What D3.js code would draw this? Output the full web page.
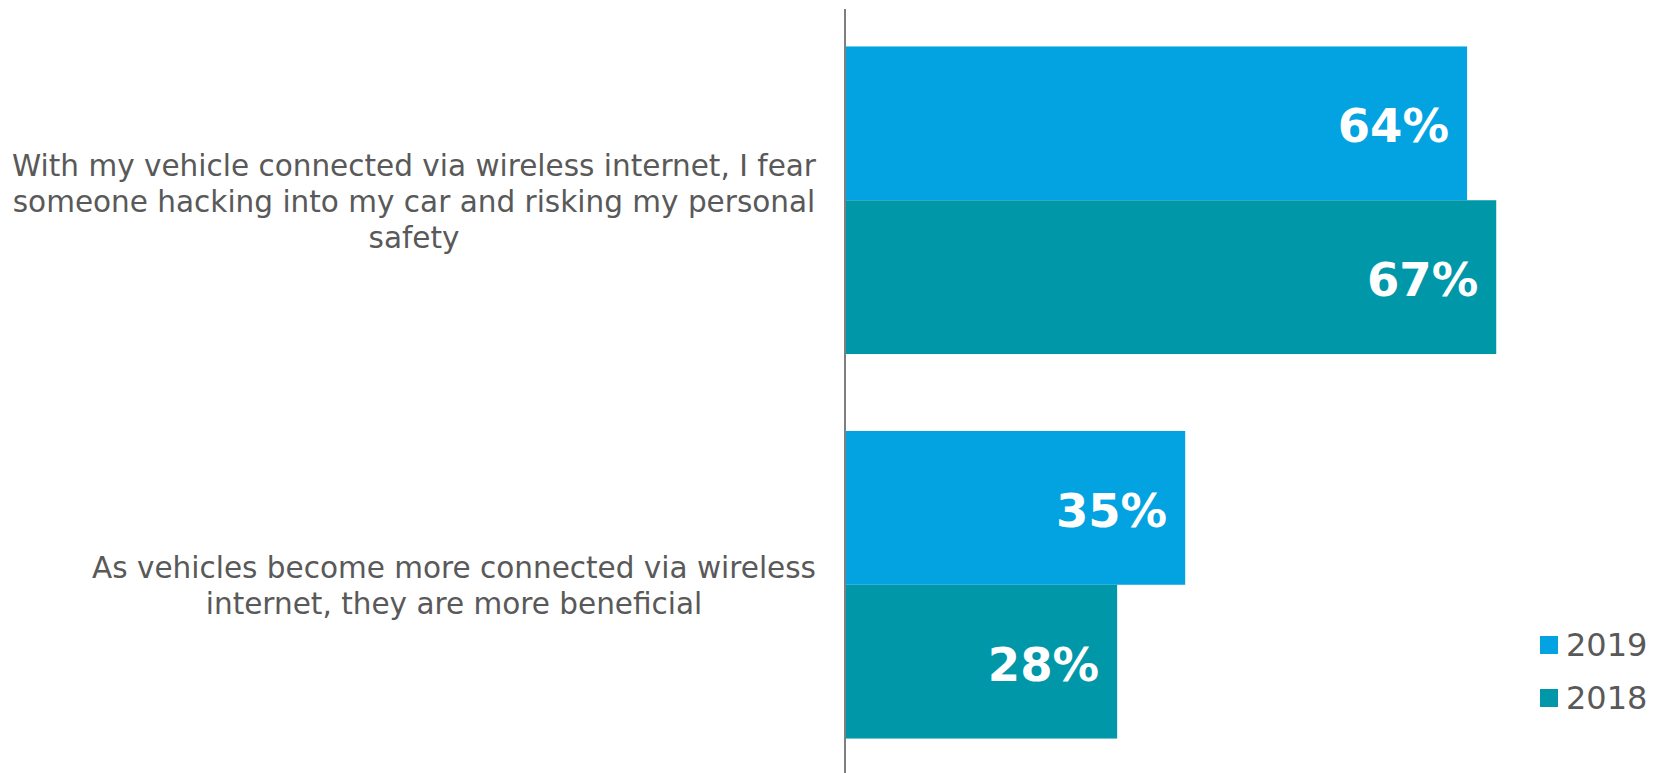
<!DOCTYPE html>
<html>
<head>
<meta charset="utf-8">
<script src="https://cdn.jsdelivr.net/npm/d3@7"></script>
<style>
  html, body { margin: 0; padding: 0; background: #ffffff; }
  svg { display: block; }
</style>
</head>
<body>
<svg id="chart" width="1662" height="773"></svg>
<script>
// ---- data ----
const categories = [
  "With my vehicle connected via wireless internet, I fear someone hacking into my car and risking my personal safety",
  "As vehicles become more connected via wireless internet, they are more beneficial"
];
const categoryLines = [
  ["With my vehicle connected via wireless internet, I fear", "someone hacking into my car and risking my personal", "safety"],
  ["As vehicles become more connected via wireless", "internet, they are more beneficial"]
];
const seriesNames = ["2019", "2018"];
const values2019 = [64, 35];
const values2018 = [67, 28];
const seriesColors = ["#03a3e1", "#0097a9"];

// ---- layout ----
const W = 1662, H = 773;
const axisX = 845;
const svg = d3.select("#chart");

const x = d3.scaleLinear().domain([0, 100]).range([axisX, axisX + 972]);
const y = d3.scaleBand().domain(categories).range([8, 777]).paddingInner(0.2).paddingOuter(0.1);
const ySub = d3.scaleBand().domain(seriesNames).range([0, y.bandwidth()]);

const seriesValues = { "2019": values2019, "2018": values2018 };
const data = [];
categories.forEach((c, i) => {
  seriesNames.forEach((s, j) => data.push({ cat: c, series: s, value: seriesValues[s][i], color: seriesColors[j] }));
});

// bars
svg.append("g").selectAll("rect").data(data).join("rect")
  .attr("x", x(0))
  .attr("y", d => y(d.cat) + ySub(d.series))
  .attr("width", d => x(d.value) - x(0))
  .attr("height", ySub.bandwidth())
  .attr("fill", d => d.color);

// value labels
svg.append("g").selectAll("text").data(data).join("text")
  .attr("x", d => x(d.value) - 18)
  .attr("y", d => y(d.cat) + ySub(d.series) + ySub.bandwidth() / 2 + 3)
  .attr("text-anchor", "end")
  .attr("dominant-baseline", "central")
  .attr("font-family", "'DejaVu Sans', Verdana, sans-serif")
  .attr("font-weight", "bold")
  .attr("font-size", 46.5)
  .attr("fill", "#ffffff")
  .text(d => d.value + "%");

// axis line
const yAxis = d3.axisLeft(y).tickSize(0).tickFormat("");
const axisG = svg.append("g").attr("transform", `translate(${axisX},0)`).call(yAxis);
axisG.select(".domain").attr("stroke", "#7f7f7f").attr("stroke-width", 2)
  .attr("d", `M0,9V${H}`);

// category labels (centered text block, right-aligned to the axis)
const labelRight = 816;
const lineH = 36;
categories.forEach((c, i) => {
  const lines = categoryLines[i];
  const g = svg.append("g");
  const texts = g.selectAll("text").data(lines).join("text")
    .attr("font-family", "'DejaVu Sans', Verdana, sans-serif")
    .attr("font-size", 29.5)
    .attr("fill", "#595959")
    .attr("text-anchor", "middle")
    .attr("dominant-baseline", "central")
    .text(d => d);
  let maxW = 0;
  texts.each(function () { maxW = Math.max(maxW, this.getComputedTextLength()); });
  const cx = labelRight - maxW / 2;
  const cy = y(c) + y.bandwidth() / 2 + 1.5;
  texts.attr("x", cx).attr("y", (d, k) => cy + (k - (lines.length - 1) / 2) * lineH);
});

// legend
const legend = svg.append("g");
seriesNames.forEach((s, j) => {
  const ly = 644 + j * 53;
  legend.append("rect").attr("x", 1540).attr("y", ly - 8).attr("width", 18).attr("height", 18).attr("fill", seriesColors[j]);
  legend.append("text").attr("x", 1566).attr("y", ly + 1)
    .attr("dominant-baseline", "central")
    .attr("font-family", "'DejaVu Sans', Verdana, sans-serif")
    .attr("font-size", 32)
    .attr("fill", "#595959")
    .text(s);
});
</script>
</body>
</html>
